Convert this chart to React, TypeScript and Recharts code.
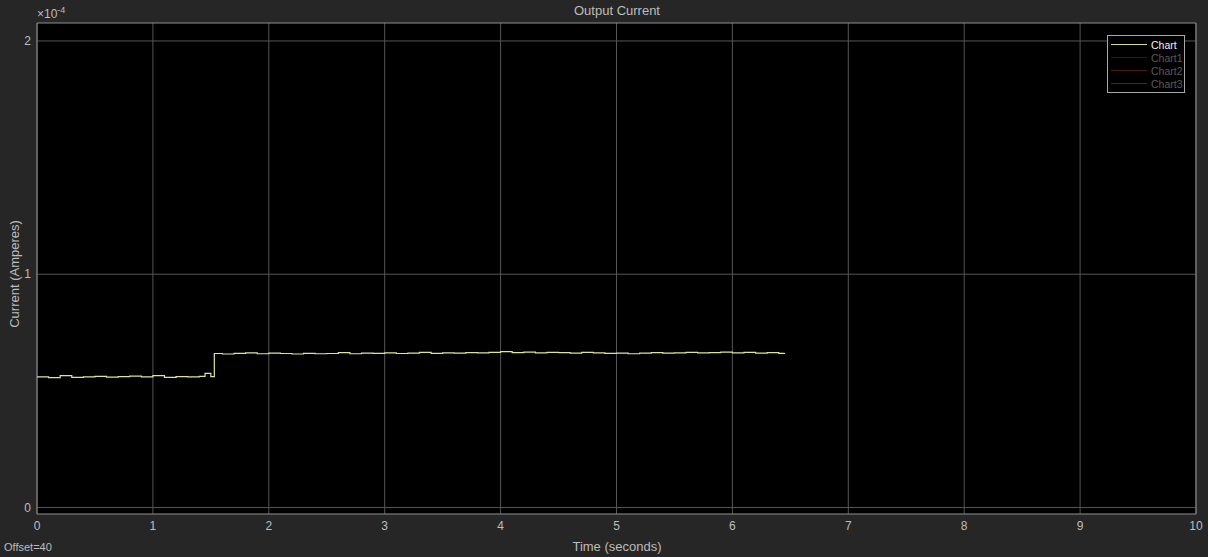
import { LineChart, Line, XAxis, YAxis, CartesianGrid, ReferenceArea } from "recharts";

// time (s) and output current (x1e-4 A)
const times = [
  0, 0.1, 0.2, 0.3, 0.4, 0.5, 0.6, 0.7, 0.8, 0.9, 1.0, 1.1, 1.2, 1.3, 1.4, 1.45, 1.5, 1.53,
  1.6, 1.7, 1.8, 1.9, 2.0, 2.1, 2.2, 2.3, 2.4, 2.5, 2.6, 2.7, 2.8, 2.9, 3.0, 3.1, 3.2, 3.3,
  3.4, 3.5, 3.6, 3.7, 3.8, 3.9, 4.0, 4.1, 4.2, 4.3, 4.4, 4.5, 4.6, 4.7, 4.8, 4.9, 5.0, 5.1,
  5.2, 5.3, 5.4, 5.5, 5.6, 5.7, 5.8, 5.9, 6.0, 6.1, 6.2, 6.3, 6.4, 6.45,
];
const current = [
  0.560, 0.557, 0.565, 0.558, 0.560, 0.562, 0.559, 0.561, 0.563, 0.560, 0.565, 0.558, 0.561, 0.560, 0.562, 0.575, 0.561, 0.660,
  0.658, 0.661, 0.663, 0.659, 0.662, 0.660, 0.658, 0.661, 0.659, 0.660, 0.664, 0.659, 0.662, 0.661, 0.663, 0.660, 0.662, 0.665,
  0.661, 0.663, 0.662, 0.664, 0.663, 0.665, 0.668, 0.664, 0.666, 0.663, 0.665, 0.664, 0.662, 0.665, 0.663, 0.661, 0.662, 0.659,
  0.662, 0.664, 0.662, 0.663, 0.665, 0.663, 0.664, 0.666, 0.663, 0.665, 0.662, 0.664, 0.661, 0.662,
];
const xTicks = [0, 1, 2, 3, 4, 5, 6, 7, 8, 9, 10];
const yTicks = [0, 1, 2];
const legendNames = ["Chart", "Chart1", "Chart2", "Chart3"];
const legendColors = ["#d8d890", "#1c1c4a", "#4a1c1c", "#243a24"];

const data = times.map((t, i) => ({ t, v: current[i] }));

const textColor = "#bdbdbd";
const font = '"Liberation Sans", Arial, sans-serif';

function ScopeLegend() {
  return (
    <div style={{ position: "absolute", left: 1107, top: 35, border: "1px solid #a8a8a8", background: "#000", width: 76, padding: "2px 0", fontSize: 10.5 }}>
      {legendNames.map((n, i) => (
        <div key={n} style={{ display: "flex", alignItems: "center", height: 13 }}>
          <span style={{ width: 36, height: 0, borderTop: `1px solid ${legendColors[i]}`, marginLeft: 3, marginRight: 4 }} />
          <span style={{ color: i === 0 ? "#f2f2f2" : "#5a5a5a" }}>{n}</span>
        </div>
      ))}
    </div>
  );
}

export default function App() {
  return (
    <div style={{ position: "absolute", left: 0, top: 0, width: 1208, height: 557, background: "#262626", fontFamily: font, overflow: "hidden" }}>
      <LineChart width={1208} height={557} data={data} margin={{ top: 23, right: 12, left: 0, bottom: 0 }}>
        <CartesianGrid stroke="#555555" strokeWidth={1} fill="#000" fillOpacity={1} horizontalValues={yTicks} verticalValues={xTicks} />
        <XAxis
          dataKey="t"
          type="number"
          domain={[0, 10]}
          ticks={xTicks}
          height={43}
          tickLine={false}
          axisLine={false}
          tickSize={6}
          tickMargin={1}
          tick={{ fill: textColor, fontSize: 12, fontFamily: font }}
          allowDataOverflow
        />
        <YAxis
          type="number"
          domain={[-0.028, 2.077]}
          ticks={yTicks}
          width={37}
          tickLine={false}
          axisLine={false}
          tickSize={6}
          tickMargin={0}
          tick={{ fill: textColor, fontSize: 12, fontFamily: font }}
          allowDataOverflow
        />
        <ReferenceArea x1={0} x2={10} y1={-0.028} y2={2.077} fill="none" stroke="#8f8f8f" strokeWidth={1} ifOverflow="visible" />
        <Line type="stepAfter" dataKey="v" stroke="#e2e29c" strokeWidth={1.2} dot={false} isAnimationActive={false} />
      </LineChart>
      <ScopeLegend />
      <div style={{ position: "absolute", left: 0, width: 1208, top: 3, textAlign: "center", color: textColor, fontSize: 13 }}>
        <span style={{ marginLeft: 26 }}>Output Current</span>
      </div>
      <div style={{ position: "absolute", left: 37, top: 5, color: textColor, fontSize: 12 }}>
        ×10<sup style={{ fontSize: 9 }}>-4</sup>
      </div>
      <div style={{ position: "absolute", left: 0, width: 1208, top: 539, textAlign: "center", color: textColor, fontSize: 13 }}>
        <span style={{ marginLeft: 26 }}>Time (seconds)</span>
      </div>
      <div style={{ position: "absolute", left: 4, top: 541, color: textColor, fontSize: 11 }}>Offset=40</div>
      <div
        style={{
          position: "absolute",
          left: 14,
          top: 274,
          color: textColor,
          fontSize: 13,
          whiteSpace: "nowrap",
          transform: "translate(-50%, -50%) rotate(-90deg)",
        }}
      >
        Current (Amperes)
      </div>
    </div>
  );
}
